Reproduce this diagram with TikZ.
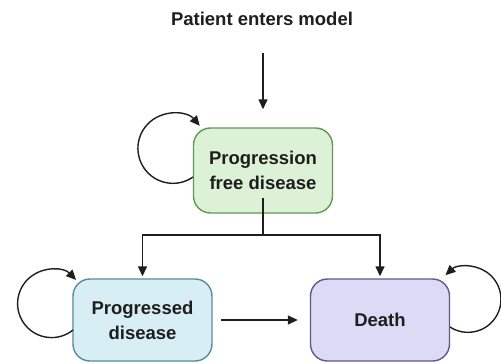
\documentclass[tikz,border=0pt]{standalone}
\usepackage{fontspec}
\setmainfont{Liberation Sans}
\usetikzlibrary{arrows.meta}
\definecolor{gfill}{HTML}{DDF1D6}
\definecolor{gdraw}{HTML}{5E9A52}
\definecolor{bfill}{HTML}{D8EEF5}
\definecolor{bdraw}{HTML}{548E9C}
\definecolor{pfill}{HTML}{DCDAF4}
\definecolor{pdraw}{HTML}{5F5A8E}
\definecolor{ink}{HTML}{1E1E1E}
\tikzset{
  statebox/.style={rounded corners=17pt, line width=1.4pt, minimum width=139pt, align=center,
    font=\fontsize{18.5}{25}\selectfont\bfseries, text=ink},
  flow/.style={draw=ink, line width=1.4pt, -{Triangle[length=10pt,width=9pt]}},
  plain/.style={draw=ink, line width=1.4pt},
}
\begin{document}
\begin{tikzpicture}[x=1pt,y=-1pt]
\useasboundingbox (0,0) rectangle (501,362);
\node[font=\fontsize{18.5}{22}\selectfont\bfseries, text=ink] (title) at (262,19) {Patient enters model};
\coordinate (ain) at (263,53);
\node[statebox, fill=gfill, draw=gdraw, minimum height=85pt] (pfd) at (263,170.5) {Progression\\free disease};
\node[statebox, fill=bfill, draw=bdraw, minimum height=82pt] (pd) at (142.5,320) {Progressed\\disease};
\node[statebox, fill=pfill, draw=pdraw, minimum height=82pt] (death) at (380,320) {Death};
\draw[flow] (ain) -- ([yshift=18pt]pfd.north);
\coordinate (split) at (263,235);
\draw[plain] ([yshift=16pt]pfd.south) -- (split);
\draw[flow] (split) -| ([yshift=2pt]pd.north);
\draw[flow] (split) -| ([yshift=2pt]death.north);
\draw[flow] ([xshift=8pt]pd.east) -- ([xshift=-12pt]death.west);
% self loops
\coordinate (l1s) at (193,177);
\draw[flow] (l1s) arc[start angle=-55, end angle=-320, radius=35pt];
\coordinate (l2s) at (73,330);
\draw[flow] (l2s) arc[start angle=-51, end angle=-316, radius=34pt];
\coordinate (l3s) at (450,327);
\draw[flow] (l3s) arc[start angle=-123, end angle=133, radius=33pt];
\end{tikzpicture}
\end{document}
